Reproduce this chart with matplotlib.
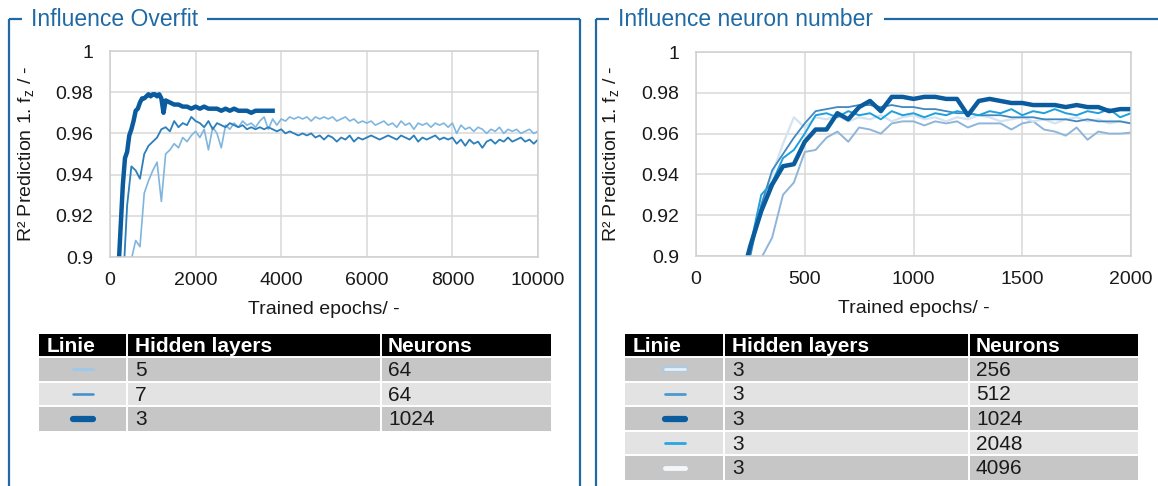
import matplotlib
matplotlib.use("Agg")
import matplotlib.pyplot as plt
from matplotlib.patches import Rectangle

plt.rcParams['font.family'] = ['Liberation Sans', 'DejaVu Sans']
plt.rcParams['mathtext.fontset'] = 'custom'
plt.rcParams['mathtext.rm'] = 'Liberation Sans'
plt.rcParams['mathtext.it'] = 'Liberation Sans'

# ---------------- data ----------------
yticks = [0.9, 0.92, 0.94, 0.96, 0.98, 1.0]
ytick_labels = ["0.9", "0.92", "0.94", "0.96", "0.98", "1"]
left_xticks = [0, 2000, 4000, 6000, 8000, 10000]
right_xticks = [0, 500, 1000, 1500, 2000]

# Left panel: influence overfit
ov_light_x = list(range(400, 10001, 100))          # 5 hidden layers, 64 neurons
ov_light_y = [0.885, 0.899, 0.908, 0.905, 0.931, 0.937, 0.942, 0.946, 0.927, 0.950,
              0.952, 0.955, 0.953, 0.958, 0.956, 0.959, 0.961, 0.958, 0.962, 0.952,
              0.963, 0.960, 0.953, 0.964, 0.962, 0.965, 0.963, 0.966, 0.964, 0.965,
              0.963, 0.966, 0.968, 0.962, 0.967, 0.964, 0.967, 0.966, 0.968, 0.967,
              0.968, 0.967, 0.968, 0.966, 0.968, 0.967, 0.968, 0.967, 0.968, 0.966,
              0.967, 0.968, 0.966, 0.967, 0.965, 0.966, 0.965, 0.966, 0.964, 0.965,
              0.966, 0.964, 0.965, 0.963, 0.966, 0.964, 0.965, 0.962, 0.965, 0.964,
              0.965, 0.963, 0.965, 0.964, 0.965, 0.963, 0.965, 0.960, 0.964, 0.962,
              0.963, 0.961, 0.963, 0.962, 0.960, 0.962, 0.961, 0.963, 0.960, 0.962,
              0.961, 0.962, 0.960, 0.961, 0.962, 0.960, 0.961]
ov_mid_x = list(range(300, 10001, 100))            # 7 hidden layers, 64 neurons
ov_mid_y = [0.885, 0.925, 0.944, 0.942, 0.938, 0.950, 0.954, 0.956, 0.958, 0.962,
            0.963, 0.961, 0.966, 0.963, 0.965, 0.964, 0.968, 0.966, 0.965, 0.963,
            0.966, 0.962, 0.965, 0.964, 0.963, 0.965, 0.964, 0.963, 0.964, 0.962,
            0.963, 0.962, 0.963, 0.962, 0.963, 0.962, 0.961, 0.962, 0.960, 0.961,
            0.960, 0.959, 0.960, 0.959, 0.960, 0.958, 0.959, 0.957, 0.959, 0.958,
            0.956, 0.958, 0.957, 0.959, 0.956, 0.958, 0.957, 0.958, 0.959, 0.958,
            0.957, 0.958, 0.959, 0.958, 0.957, 0.959, 0.958, 0.957, 0.959, 0.956,
            0.958, 0.957, 0.958, 0.959, 0.957, 0.958, 0.957, 0.958, 0.955, 0.957,
            0.954, 0.957, 0.955, 0.956, 0.953, 0.956, 0.957, 0.955, 0.957, 0.956,
            0.958, 0.956, 0.957, 0.958, 0.956, 0.957, 0.955, 0.957]
ov_dark_x = list(range(150, 1251, 50)) + list(range(1300, 3801, 100))   # 3 layers, 1024
ov_dark_y = [0.880, 0.895, 0.915, 0.935, 0.948, 0.951, 0.959, 0.962, 0.966, 0.971,
             0.972, 0.975, 0.977, 0.977, 0.978, 0.979, 0.978, 0.979, 0.979, 0.978,
             0.979, 0.977, 0.970,
             0.976, 0.975, 0.974, 0.974, 0.973, 0.973, 0.972, 0.973, 0.972, 0.973,
             0.972, 0.972, 0.972, 0.971, 0.972, 0.971, 0.972, 0.971, 0.971, 0.971,
             0.970, 0.971, 0.971, 0.971, 0.971, 0.971]

# Right panel: influence neuron number
nn_x = list(range(200, 2001, 50))
nn_256 = [0.860, 0.880, 0.899, 0.909, 0.930, 0.936, 0.951, 0.952, 0.958, 0.961,
          0.956, 0.963, 0.962, 0.960, 0.965, 0.966, 0.966, 0.964, 0.966, 0.965,
          0.966, 0.963, 0.965, 0.965, 0.965, 0.962, 0.965, 0.966, 0.962, 0.961,
          0.959, 0.963, 0.957, 0.961, 0.960, 0.960, 0.9605]
nn_512 = [0.870, 0.900, 0.925, 0.942, 0.950, 0.958, 0.965, 0.971, 0.972, 0.973,
          0.973, 0.974, 0.974, 0.973, 0.974, 0.973, 0.973, 0.972, 0.972, 0.971,
          0.970, 0.970, 0.969, 0.969, 0.969, 0.968, 0.968, 0.968, 0.967, 0.967,
          0.967, 0.966, 0.967, 0.966, 0.966, 0.966, 0.965]
nn_2048 = [0.870, 0.905, 0.930, 0.936, 0.948, 0.952, 0.960, 0.969, 0.970, 0.968,
           0.971, 0.969, 0.970, 0.967, 0.971, 0.969, 0.970, 0.968, 0.970, 0.969,
           0.971, 0.970, 0.969, 0.971, 0.970, 0.972, 0.969, 0.971, 0.970, 0.972,
           0.970, 0.969, 0.971, 0.970, 0.972, 0.968, 0.970]
nn_4096 = [0.880, 0.905, 0.925, 0.940, 0.955, 0.968, 0.963, 0.968, 0.967, 0.969,
           0.966, 0.968, 0.967, 0.969, 0.966, 0.968, 0.969, 0.967, 0.968, 0.966,
           0.968, 0.967, 0.969, 0.968, 0.966, 0.967, 0.968, 0.966, 0.967, 0.965,
           0.967, 0.968, 0.966, 0.967, 0.965, 0.966, 0.965]
nn_1024_x = [225, 250, 300, 350, 400, 450, 500, 550, 600, 650, 700, 750, 800, 850,
             900, 950, 1000, 1050, 1100, 1150, 1200, 1250, 1300, 1350, 1400, 1450,
             1500, 1550, 1600, 1650, 1700, 1750, 1800, 1850, 1900, 1950, 2000]
nn_1024 = [0.895, 0.905, 0.922, 0.935, 0.944, 0.945, 0.956, 0.962, 0.962, 0.970,
           0.967, 0.973, 0.976, 0.971, 0.978, 0.978, 0.977, 0.978, 0.978, 0.977,
           0.977, 0.969, 0.976, 0.977, 0.976, 0.975, 0.975, 0.974, 0.974, 0.974,
           0.973, 0.974, 0.973, 0.973, 0.971, 0.972, 0.972]

# Tables
table_header = ["Linie", "Hidden layers", "Neurons"]
left_layers = ["5", "7", "3"]
left_neurons = ["64", "64", "1024"]
right_layers = ["3", "3", "3", "3", "3"]
right_neurons = ["256", "512", "1024", "2048", "4096"]

# ---------------- styles ----------------
W, H = 1158, 486
FRAME = '#1f6aa5'
C_LIGHT = '#7fb6df'
C_MID = '#2a7fbc'
C_DARK = '#0b5c9e'
C_256 = '#8fb5d8'
C_512 = '#4088c0'
C_2048 = '#1ea0dd'
C_4096 = '#d3e3f1'
GRID = '#d9d9d9'
ROW_DARK = '#c6c6c7'
ROW_LIGHT = '#e3e3e3'
TXT = '#1a1a1a'

fig = plt.figure(figsize=(W / 100, H / 100), dpi=100)
fig.patch.set_facecolor('white')

ov = fig.add_axes([0, 0, 1, 1])
ov.set_xlim(0, W)
ov.set_ylim(H, 0)
ov.axis('off')


def fx(px):
    return px / W


def fy(py):
    return 1 - py / H


def make_axes(l, r, t, b):
    return fig.add_axes([fx(l), fy(b), fx(r) - fx(l), (b - t) / H])


def style_axes(ax, xlim, xticks):
    ax.set_xlim(*xlim)
    ax.set_ylim(0.9, 1.0)
    ax.set_xticks(xticks)
    ax.set_xticklabels([str(v) for v in xticks])
    ax.set_yticks(yticks)
    ax.set_yticklabels(ytick_labels)
    ax.grid(True, color=GRID, lw=1.1)
    ax.set_axisbelow(True)
    for s in ax.spines.values():
        s.set_color('#cfcfcf')
        s.set_linewidth(1.1)
    ax.tick_params(length=0, labelsize=14, colors=TXT)
    ax.tick_params(axis='y', pad=12)
    ax.tick_params(axis='x', pad=11)
    ax.set_xlabel('Trained epochs/ -', fontsize=14, color=TXT)
    ax.set_ylabel('R² Prediction 1. f$_{\\mathregular{z}}$ / -', fontsize=14, color=TXT)
    ax.yaxis.set_label_coords(-0.172, 0.5)
    ax.xaxis.set_label_coords(0.5, -0.215)


# ---- left panel ----
axL = make_axes(110, 538, 51, 257)
style_axes(axL, (0, 10000), left_xticks)
axL.plot(ov_light_x, ov_light_y, color=C_LIGHT, lw=1.2, solid_joinstyle='round')
axL.plot(ov_mid_x, ov_mid_y, color=C_MID, lw=1.3, solid_joinstyle='round')
axL.plot(ov_dark_x, ov_dark_y, color=C_DARK, lw=3.2, solid_joinstyle='round')

# ---- right panel ----
axR = make_axes(696, 1131, 52, 256)
style_axes(axR, (0, 2000), right_xticks)
axR.plot(nn_x, nn_256, color=C_256, lw=1.4)
axR.plot(nn_x, nn_4096, color=C_4096, lw=1.6)
axR.plot(nn_x, nn_512, color=C_512, lw=1.3)
axR.plot(nn_x, nn_2048, color=C_2048, lw=1.4)
axR.plot(nn_1024_x, nn_1024, color=C_DARK, lw=3.2, solid_joinstyle='round')

# ---- frames with titles ----
def frame(x0, x1, title, title_x, gap_end):
    ov.plot([x0, x0], [19, H + 2], color=FRAME, lw=1.6, solid_capstyle='butt')
    if x1 is not None:
        ov.plot([x1, x1], [19, H + 2], color=FRAME, lw=1.6, solid_capstyle='butt')
    ov.plot([x0, title_x - 9], [19, 19], color=FRAME, lw=1.6, solid_capstyle='butt')
    ov.plot([gap_end, x1 if x1 is not None else W], [19, 19], color=FRAME, lw=1.6,
            solid_capstyle='butt')
    ov.text(title_x, 19, title, fontsize=16.5, color=FRAME, va='center', ha='left')

frame(9, 580, "Influence Overfit", 31, 207)
frame(596, None, "Influence neuron number", 618, 884)

# ---- tables ----
FS_T = 15
def table(x0, x1, c1, c2, y0, row_h, layers, neurons, samples):
    hdr_h = 23
    ov.add_patch(Rectangle((x0, y0), x1 - x0, hdr_h, facecolor='black', edgecolor='none'))
    for xx, lab in zip((x0 + 8, c1 + 8, c2 + 7), table_header):
        ov.text(xx, y0 + hdr_h / 2 + 1, lab, color='white', fontsize=FS_T,
                fontweight='bold', va='center')
    top = y0 + hdr_h
    for i, (la, ne) in enumerate(zip(layers, neurons)):
        yy = top + i * row_h
        ov.add_patch(Rectangle((x0, yy), x1 - x0, row_h,
                               facecolor=ROW_DARK if i % 2 == 0 else ROW_LIGHT,
                               edgecolor='none'))
        ov.plot([x0, x1], [yy, yy], color='white', lw=1.4)
        ov.text(c1 + 8, yy + row_h / 2 + 1, la, fontsize=FS_T, color=TXT, va='center')
        ov.text(c2 + 7, yy + row_h / 2 + 1, ne, fontsize=FS_T, color=TXT, va='center')
        cx = (x0 + c1) / 2
        for col, lw in samples[i]:
            ov.plot([cx - 10, cx + 10], [yy + row_h / 2, yy + row_h / 2], color=col,
                    lw=lw, solid_capstyle='round')
    bottom = top + len(layers) * row_h
    for c in (c1, c2):
        ov.plot([c, c], [y0, bottom], color='white', lw=1.4)

table(39, 551, 127, 381, 334, 24.7, left_layers, left_neurons,
      [[('#9cc9ea', 2.0)], [('#3f8fcb', 1.8)], [(C_DARK, 4.5)]])
table(625, 1138, 724, 969, 334, 24.6, right_layers, right_neurons,
      [[('#a9cbe6', 4.0), ('#e4eff8', 2.0)], [('#4d9ad3', 2.0)], [(C_DARK, 4.5)],
       [('#2aa5e2', 2.0)], [('#f4f7fa', 3.5)]])

fig.savefig('out.png', dpi=100, facecolor='white')
